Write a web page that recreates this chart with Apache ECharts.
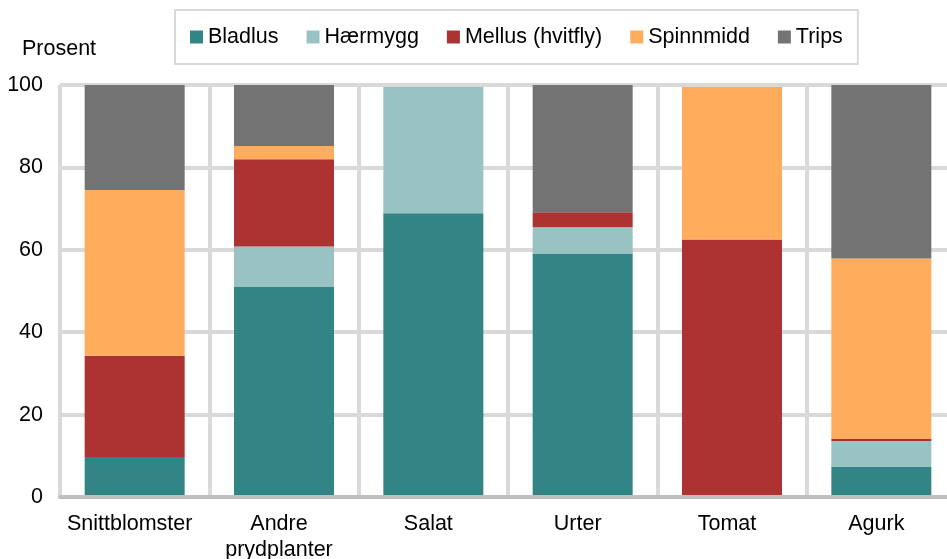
<!DOCTYPE html>
<html lang="no">
<head>
    <meta charset="UTF-8">
    <title>chart</title>
    <script src="https://cdn.jsdelivr.net/npm/echarts@6/dist/echarts.min.js"></script>
    <style>
        html, body {
            margin: 0;
            height: 100%;
            background: #fff;
        }
        #app {
            width: 947px;
            height: 559px;
        }
    </style>
</head>
<body>
<div id="app"></div>
<script>
    var categories = ['Snittblomster', 'Andre\nprydplanter', 'Salat', 'Urter', 'Tomat', 'Agurk'];
    var seriesNames = ['Bladlus', 'Hærmygg', 'Mellus (hvitfly)', 'Spinnmidd', 'Trips'];
    var bladlus = [9.7, 51.1, 68.9, 59.1, 0, 7.3];
    var haermygg = [0, 9.7, 30.6, 6.4, 0, 6.3];
    var mellus = [24.6, 21.2, 0, 3.6, 62.5, 0.5];
    var spinnmidd = [40.2, 3.2, 0, 0, 37.0, 43.8];
    var trips = [25.5, 14.8, 0, 30.9, 0, 42.1];
    var colors = ['#338585', '#99c2c2', '#ad3333', '#ffad5c', '#737373'];
    var yTicks = [0, 20, 40, 60, 80, 100];

    var values = [bladlus, haermygg, mellus, spinnmidd, trips];
    var font = 'Liberation Sans, Arial, sans-serif';
    var fs = 21.5;

    var series = [];
    for (var i = 0; i < seriesNames.length; i++) {
        series.push({
            name: seriesNames[i],
            type: 'bar',
            stack: 'total',
            barWidth: 100,
            itemStyle: {color: colors[i]},
            data: values[i],
            animation: false
        });
    }

    var option = {
        color: colors,
        title: {
            text: 'Prosent',
            left: 17,
            top: 33,
            textStyle: {fontFamily: font, fontSize: fs, fontWeight: 'normal', color: '#000'}
        },
        legend: {
            data: seriesNames,
            left: 175,
            top: 10,
            padding: [16, 15],
            itemGap: 28,
            itemWidth: 13,
            itemHeight: 13,
            icon: 'rect',
            borderColor: '#d9d9d9',
            borderWidth: 2,
            textStyle: {fontFamily: font, fontSize: fs, color: '#000'}
        },
        grid: {
            left: 60,
            right: -9,   // plot runs a little past the right edge in the original
            top: 85,
            bottom: 62,
            outerBoundsMode: 'none'
        },
        xAxis: {
            type: 'category',
            data: categories,
            axisTick: {show: false},
            axisLine: {show: true, lineStyle: {color: '#bfbfbf', width: 4}},
            axisLabel: {
                fontFamily: font, fontSize: fs, color: '#000',
                margin: 14, lineHeight: 26, interval: 0,
                padding: [0, 10, 0, 0]
            },
            splitLine: {show: true, lineStyle: {color: '#d9d9d9', width: 4}},
            z: 10
        },
        yAxis: {
            type: 'value',
            min: yTicks[0],
            max: yTicks[yTicks.length - 1],
            interval: yTicks[1] - yTicks[0],
            axisLine: {show: false},
            axisTick: {show: false},
            axisLabel: {fontFamily: font, fontSize: fs, color: '#000', margin: 17},
            splitLine: {lineStyle: {color: '#d9d9d9', width: 4}}
        },
        series: series
    };

    var myChart = echarts.init(document.getElementById('app'));
    myChart.setOption(option);
</script>
</body>
</html>
